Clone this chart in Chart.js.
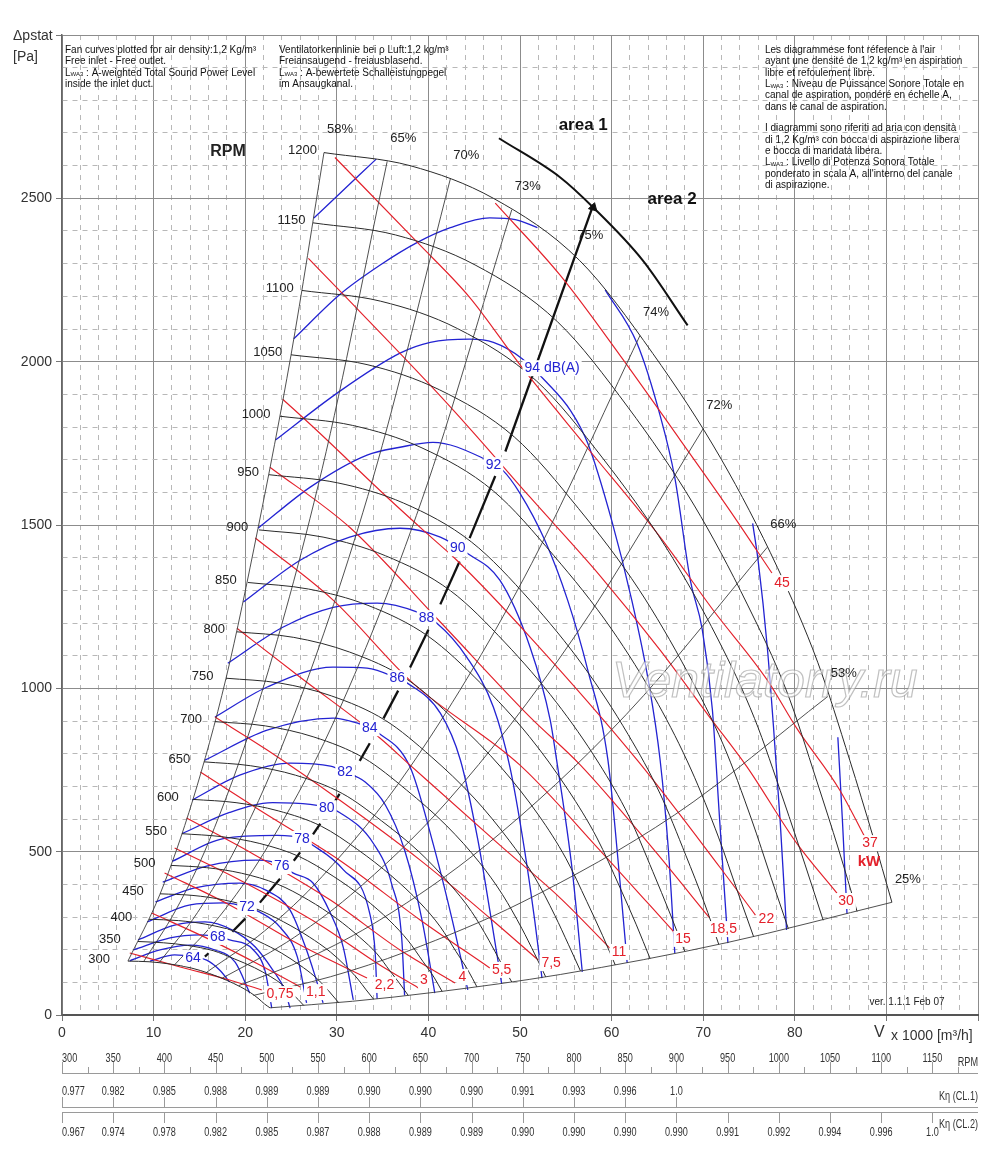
<!DOCTYPE html>
<html>
<head>
<meta charset="utf-8">
<script src="https://cdn.jsdelivr.net/npm/chart.js@4.4.1/dist/chart.umd.min.js"></script>
<style>
  body { margin: 0; background: #fff; }
  canvas { display: block; }
</style>
</head>
<body>
<canvas id="fanChart" width="1000" height="1160"></canvas>
<script>
// ---- fan curves, [V x1000 m3/h, dp Pa] ----
const rpmSpeeds = [1200, 1150, 1100, 1050, 1000, 950, 900, 850, 800, 750, 700, 650, 600, 550, 500, 450, 400, 350, 300];
const n1200 = [[28.6,2640],[38.0,2600],[47.1,2500],[56.5,2310],[64.5,2025],[72.0,1700],[78.1,1370],[82.5,1080],[86.0,780],[88.5,550],[90.6,345]];
const n1150 = [[27.4,2425],[36.4,2388],[45.1,2296],[54.1,2122],[61.8,1860],[69.0,1561],[74.8,1258],[79.1,992],[82.4,716],[84.8,505],[86.8,317]];
const n1100 = [[26.2,2218],[34.8,2185],[43.2,2101],[51.8,1941],[59.1,1702],[66.0,1429],[71.6,1151],[75.6,908],[78.8,655],[81.1,462],[83.1,290]];
const n1050 = [[25.0,2021],[33.3,1991],[41.2,1914],[49.4,1769],[56.4,1550],[63.0,1302],[68.3,1049],[72.2,827],[75.3,597],[77.4,421],[79.3,264]];
const n1000 = [[23.8,1833],[31.7,1805],[39.3,1736],[47.1,1604],[53.7,1406],[60.0,1181],[65.1,951],[68.7,750],[71.7,542],[73.7,382],[75.5,240]];
const n950 = [[22.6,1654],[30.1,1629],[37.3,1567],[44.7,1448],[51.1,1269],[57.0,1065],[61.8,859],[65.3,677],[68.1,489],[70.1,345],[71.7,216]];
const n900 = [[21.5,1485],[28.5,1463],[35.3,1406],[42.4,1299],[48.4,1139],[54.0,956],[58.6,771],[61.9,608],[64.5,439],[66.4,309],[68.0,194]];
const n850 = [[20.3,1324],[26.9,1304],[33.4,1254],[40.0,1159],[45.7,1016],[51.0,853],[55.3,687],[58.4,542],[60.9,391],[62.7,276],[64.2,173]];
const n800 = [[19.1,1173],[25.3,1156],[31.4,1111],[37.7,1027],[43.0,900],[48.0,756],[52.1,609],[55.0,480],[57.3,347],[59.0,244],[60.4,153]];
const n750 = [[17.9,1031],[23.8,1016],[29.4,977],[35.3,902],[40.3,791],[45.0,664],[48.8,535],[51.6,422],[53.8,305],[55.3,215],[56.6,135]];
const n700 = [[16.7,898],[22.2,885],[27.5,851],[33.0,786],[37.6,689],[42.0,579],[45.6,466],[48.1,368],[50.2,265],[51.6,187],[52.8,117]];
const n650 = [[15.5,775],[20.6,763],[25.5,734],[30.6,678],[34.9,594],[39.0,499],[42.3,402],[44.7,317],[46.6,229],[47.9,161],[49.1,101]];
const n600 = [[14.3,660],[19.0,650],[23.6,625],[28.3,578],[32.3,506],[36.0,425],[39.1,343],[41.3,270],[43.0,195],[44.3,138],[45.3,86]];
const n550 = [[13.1,555],[17.4,546],[21.6,525],[25.9,485],[29.6,425],[33.0,357],[35.8,288],[37.8,227],[39.4,164],[40.6,116],[41.5,72]];
const n500 = [[11.9,458],[15.8,451],[19.6,434],[23.5,401],[26.9,352],[30.0,295],[32.5,238],[34.4,187],[35.8,135],[36.9,95],[37.8,60]];
const n450 = [[10.7,371],[14.3,366],[17.7,352],[21.2,325],[24.2,285],[27.0,239],[29.3,193],[30.9,152],[32.3,110],[33.2,77],[34.0,49]];
const n400 = [[9.5,293],[12.7,289],[15.7,278],[18.8,257],[21.5,225],[24.0,189],[26.0,152],[27.5,120],[28.7,87],[29.5,61],[30.2,38]];
const n350 = [[8.3,225],[11.1,221],[13.7,213],[16.5,197],[18.8,172],[21.0,145],[22.8,117],[24.1,92],[25.1,66],[25.8,47],[26.4,29]];
const n300 = [[7.2,165],[9.5,163],[11.8,156],[14.1,144],[16.1,127],[18.0,106],[19.5,86],[20.6,68],[21.5,49],[22.1,34],[22.7,22]];
const rpmCurves = [n1200, n1150, n1100, n1050, n1000, n950, n900, n850, n800, n750, n700, n650, n600, n550, n500, n450, n400, n350, n300];

// ---- efficiency lines ----
const effNames = ['58%', '65%', '70%', '73%', '74%', '72%', '66%', '53%', '25%'];
const e58 = [[7.2,165],[10.7,370],[14.3,660],[17.9,1030],[21.4,1490],[25.0,2020],[28.6,2640]];
const e65 = [[8.9,163],[12.4,320],[16.0,529],[21.3,941],[28.4,1672],[35.5,2613]];
const e70 = [[10.6,160],[14.8,314],[19.1,518],[25.4,922],[33.9,1638],[42.4,2560]];
const e73 = [[12.3,154],[17.2,302],[22.1,499],[29.5,887],[39.3,1578],[49.1,2465]];
const e74 = [[15.8,131],[22.1,257],[28.4,424],[37.9,755],[50.5,1341],[63.1,2080]];
const e72 = [[17.5,113],[24.5,222],[31.5,367],[42.0,652],[56.0,1160],[70.0,1795]];
const e66 = [[19.3,90],[27.0,176],[34.7,291],[46.2,518],[61.6,920],[77.0,1432]];
const e53 = [[20.9,60],[29.3,117],[37.6,194],[50.2,345],[66.9,613],[83.6,975]];
const e25 = [[22.7,22],[31.7,42],[40.8,70],[54.4,124],[72.5,221],[90.6,345]];
const effLines = [e58, e65, e70, e73, e74, e72, e66, e53, e25];

// best efficiency line (75%), drawn as dashes: pairs of points
const e75 = [[58.0,2480],[48.4,1725],[47.3,1650],[44.5,1460],[43.4,1388],[41.3,1257],[40.0,1179],[38.0,1064],
  [36.7,993],[35.1,908],[33.6,832],[32.5,778],[30.3,677],[29.8,654],[28.2,586],[27.4,553],[26.0,498],[25.3,472],
  [23.8,417],[21.6,344],[20.0,295],[18.6,255],[16.0,189],[15.6,179]];
// area 1 / area 2 limit
const areaLimit = [[47.7,2684],[54.4,2564],[58.0,2472],[63.4,2310],[68.3,2111]];

// ---- absorbed power, kW ----
const kwNames = ['0,75', '1,1', '2,2', '3', '4', '5,5', '7,5', '11', '15', '18,5', '22', '30', '37', '45'];
const kw075 = [[7.4,190],[12.9,147],[18.3,107],[21.8,77]];
const kw1 = [[9.8,312],[16.2,230],[21.6,153],[26.0,86]];
const kw2 = [[11.2,435],[18.3,337],[26.0,214],[33.3,113]];
const kw3 = [[12.3,511],[19.4,413],[28.2,275],[34.7,153],[38.9,83]];
const kw4 = [[13.6,603],[20.5,499],[29.3,352],[36.9,199],[42.9,98]];
const kw5 = [[15.1,744],[21.6,627],[30.3,474],[39.1,291],[46.7,144]];
const kw7 = [[16.7,912],[22.4,811],[30.3,658],[39.1,474],[46.7,297],[52.0,168]];
const kw11 = [[19.1,1184],[26.0,1034],[34.7,848],[38.0,765],[47.8,520],[54.4,358],[59.8,205]];
const kw15 = [[21.1,1460],[29.6,1270],[38.3,1016],[50.0,765],[58.7,505],[66.9,251]];
const kw18 = [[22.7,1677],[31.4,1493],[41.3,1203],[51.1,912],[56.6,765],[64.2,520],[70.7,297]];
const kw22 = [[24.1,1885],[27.8,1790],[35.5,1585],[39.8,1475],[43.1,1392],[51.1,1157],[62.8,780],[71.8,453],[75.7,306]];
const kw30 = [[26.9,2316],[30.6,2209],[40.2,1928],[44.5,1796],[51.1,1585],[58.7,1346],[65.3,1117],[70.7,912],[74.8,759],[80.2,526],[84.6,373]];
const kw37 = [[29.8,2625],[38.8,2365],[44.5,2197],[50.2,1983],[57.3,1738],[65.3,1463],[71.1,1239],[77.0,1025],[80.2,878],[84.9,689],[87.7,542]];
const kw45 = [[47.3,2485],[54.4,2264],[60.9,2020],[67.5,1760],[72.9,1545],[77.5,1353]];
const kwLines = [kw075, kw1, kw2, kw3, kw4, kw5, kw7, kw11, kw15, kw18, kw22, kw30, kw37, kw45];

// ---- sound power LwA3, dB(A) ----
const db64 = [[9.6,165],[12.3,184],[14.5,177],[15.8,168],[17.2,138],[18.3,101]];
const db66 = [[7.4,166],[10.7,199],[14.0,214],[16.7,199],[18.9,162],[20.5,67]];
const db68 = [[7.8,199],[11.8,236],[15.1,245],[17.0,239],[18.3,230],[20.9,199],[22.2,132],[22.9,21]];
const db70 = [[8.3,230],[12.3,275],[15.6,285],[18.6,260],[21.1,208],[23.0,138],[24.3,77],[24.9,21]];
const db72 = [[9.3,285],[14.0,337],[17.6,343],[20.2,330],[21.6,315],[23.8,269],[25.7,177],[26.7,37]];
const db74 = [[10.2,346],[14.5,389],[19.4,404],[22.2,383],[24.9,321],[26.5,214],[27.6,122],[28.5,37]];
const db76 = [[11.0,407],[15.8,456],[21.3,474],[24.0,459],[25.2,435],[27.4,404],[29.3,312],[30.7,208],[31.8,46]];
const db78 = [[12.0,470],[17.6,540],[23.5,550],[26.2,540],[27.1,525],[30.7,445],[33.6,310],[34.2,185],[34.4,50]];
const db80 = [[13.1,555],[18.3,620],[23.0,650],[27.1,645],[28.9,635],[30.3,620],[34.0,525],[36.0,400],[37.1,230],[37.4,60]];
const db82 = [[14.2,658],[19.4,734],[24.9,771],[29.3,762],[30.9,744],[33.1,713],[35.3,643],[37.4,505],[39.3,291],[40.7,67]];
const db84 = [[15.6,780],[22.4,872],[29.6,909],[32.2,894],[33.6,878],[34.4,866],[38.0,759],[40.4,536],[42.6,291],[44.3,77]];
const db86 = [[16.7,912],[22.4,1004],[29.6,1065],[33.3,1062],[36.6,1031],[37.7,1016],[41.3,924],[43.5,780],[45.4,536],[46.7,321],[48.0,95]];
const db88 = [[18.1,1077],[24.1,1187],[29.6,1248],[34.4,1261],[38.8,1233],[40.9,1200],[44.2,1095],[47.1,942],[48.9,759],[50.5,505],[51.6,291],[52.4,113]];
const db90 = [[19.8,1264],[26.0,1392],[31.4,1463],[36.9,1490],[41.3,1463],[44.2,1414],[47.8,1331],[51.1,1126],[53.3,903],[54.0,780],[55.7,444],[56.8,132]];
const db92 = [[21.4,1490],[27.1,1616],[33.3,1714],[36.9,1738],[40.5,1753],[46.0,1704],[48.1,1668],[50.0,1597],[52.7,1454],[55.2,1270],[57.4,1056],[59.6,780],[60.9,413],[61.7,159]];
const db94 = [[23.3,1760],[30.0,1903],[36.9,2026],[40.2,2059],[44.5,2069],[47.1,2059],[50.2,2010],[52.9,1937],[55.5,1851],[57.4,1750],[60.0,1515],[62.2,1270],[64.0,1025],[65.3,780],[66.2,505],[66.9,190]];
const db96a = [[25.3,2070],[30.3,2205],[34.7,2295],[38.8,2365],[42.4,2410],[46.7,2440],[49.5,2435],[51.9,2410]];
const db96b = [[59.3,2220],[62.8,2055],[65.3,1835],[66.9,1645],[68.6,1330],[69.9,1180],[71.0,935],[71.8,595],[72.7,220]];
const db98a = [[27.5,2440],[30.9,2530],[34.3,2620]];
const db98b = [[75.4,1505],[76.0,1390],[77.0,1125],[77.6,910],[78.4,595],[79.1,260]];
const db100 = [[84.7,850],[85.2,595],[85.7,310]];
const dbLines = [db64, db66, db68, db70, db72, db74, db76, db78, db80, db82, db84, db86, db88, db90, db92, db94, db96a, db96b, db98a, db98b, db100];

// ---- lower scales ----
const rpmTicks = [300, 350, 400, 450, 500, 550, 600, 650, 700, 750, 800, 850, 900, 950, 1000, 1050, 1100, 1150];
const kCl1 = ['0.977', '0.982', '0.985', '0.988', '0.989', '0.989', '0.990', '0.990', '0.990', '0.991', '0.993', '0.996', '1.0'];
const kCl2 = ['0.967', '0.974', '0.978', '0.982', '0.985', '0.987', '0.988', '0.989', '0.989', '0.990', '0.990', '0.990', '0.990', '0.991', '0.992', '0.994', '0.996', '1.0'];

const FONT = "'Liberation Sans', Arial, sans-serif";
const BLACK = '#2a2a2a';
const RED = '#e3202a';
const BLUE = '#2323d2';

function toXY(a) {
    return a.map(p => ({ x: p[0], y: p[1] }));
}

function curve(a, color, width) {
    return {
        data: toXY(a),
        showLine: true,
        borderColor: color,
        borderWidth: width,
        pointRadius: 0,
        pointHoverRadius: 0,
        fill: false,
        cubicInterpolationMode: 'monotone'
    };
}

const datasets = [];
rpmCurves.forEach(c => datasets.push(curve(c, BLACK, 1)));
effLines.forEach(c => datasets.push(curve(c, '#3c3c3c', 0.9)));
kwLines.forEach(c => datasets.push(curve(c, RED, 1.15)));
dbLines.forEach(c => datasets.push(curve(c, BLUE, 1.3)));

// dashed best-efficiency line: every second segment hidden
datasets.push({
    data: toXY(e75),
    showLine: true,
    borderWidth: 2.3,
    borderColor: '#111',
    pointRadius: 0,
    tension: 0,
    segment: {
        borderColor: ctx => (ctx.p0DataIndex % 2 ? 'rgba(0,0,0,0)' : '#111')
    }
});
datasets.push(Object.assign(curve(areaLimit, '#111', 2), {}));
// arrow head on the area limit
datasets.push({
    data: [{ x: 58.0, y: 2472 }],
    showLine: false,
    pointStyle: 'triangle',
    pointRadius: 5,
    rotation: 135,
    backgroundColor: '#111',
    borderColor: '#111'
});

// labels placed on the curves (value units)
const dbLabelAt = [['64',14.3,174],['68',17.0,239],['72',20.2,330],['76',24.0,456],['78',26.2,539],['80',28.9,633],
    ['82',30.9,744],['84',33.6,878],['86',36.6,1031],['88',39.8,1215],['90',43.2,1429],['92',47.1,1683],['94 dB(A)',53.5,1980]];
const kwLabelAt = [[23.8,64],[27.7,70],[35.2,92],[39.5,107],[43.7,116],[48.0,138],[53.4,159],[60.8,193],[67.8,233],
    [72.2,263],[76.9,294],[85.6,349],[88.2,526],[78.6,1322]];

const headerLeft = ['Fan curves plotted for air density:1,2 Kg/m³', 'Free inlet - Free outlet.',
    'LWA3 : A-weighted Total Sound Power Level', 'inside the inlet duct.'];
const headerMid = ['Ventilatorkennlinie bei ρ Luft:1,2 kg/m³', 'Freiansaugend - freiausblasend.',
    'LWA3 : A-bewertete Schalleistungpegel', 'im Ansaugkanal.'];
const headerRight = ['Les diagrammese font réference à l\'air', 'ayant une densité de 1,2 kg/m³ en aspiration',
    'libre et refoulement libre.', 'LWA3 : Niveau de Puissance Sonore Totale en',
    'canal de aspiration, pondéré en échelle A,', 'dans le canal de aspiration.', '',
    'I diagrammi sono riferiti ad aria con densità', 'di 1,2 Kg/m³ con bocca di aspirazione libera',
    'e bocca di mandata libera.', 'LWA3 : Livello di Potenza Sonora Totale',
    'ponderato in scala A, all\'interno del canale', 'di aspirazione.'];

function text(ctx, s, x, y, font, color, align, bg) {
    ctx.save();
    ctx.font = font;
    ctx.textAlign = align || 'center';
    ctx.textBaseline = 'middle';
    if (bg) {
        const w = ctx.measureText(s).width;
        let x0 = x - w / 2;
        if (align === 'left') x0 = x;
        if (align === 'right') x0 = x - w;
        ctx.fillStyle = '#fff';
        ctx.fillRect(x0 - 2, y - 8, w + 4, 16);
    }
    ctx.fillStyle = color;
    ctx.fillText(s, x, y);
    ctx.restore();
}

function headerLine(ctx, s, x, y) {
    ctx.font = '10px ' + FONT;
    if (s.indexOf('LWA3') === 0) {
        ctx.fillText('L', x, y);
        const w = ctx.measureText('L').width;
        ctx.font = '6px ' + FONT;
        ctx.fillText('WA3', x + w, y + 2);
        const w2 = ctx.measureText('WA3').width;
        ctx.font = '10px ' + FONT;
        ctx.fillText(s.slice(4), x + w + w2, y);
    } else {
        ctx.fillText(s, x, y);
    }
}

function narrow(ctx, s, x, y, align) {
    ctx.save();
    ctx.translate(x, y);
    ctx.scale(0.76, 1);
    ctx.textAlign = align;
    ctx.fillText(s, 0, 0);
    ctx.restore();
}

const labelPlugin = {
    id: 'fanLabels',
    afterDatasetsDraw(chart) {
        const ctx = chart.ctx;
        const X = v => chart.scales.x.getPixelForValue(v);
        const Y = v => chart.scales.y.getPixelForValue(v);

        // watermark
        ctx.save();
        ctx.font = 'italic 50px ' + FONT;
        ctx.textBaseline = 'alphabetic';
        ctx.fillStyle = 'rgba(255,255,255,0.55)';
        ctx.strokeStyle = 'rgba(140,140,140,0.55)';
        ctx.lineWidth = 1.2;
        ctx.fillText('Ventilatorry.ru', 612, 697);
        ctx.strokeText('Ventilatorry.ru', 612, 697);
        ctx.restore();

        // rpm labels at the start of each fan curve
        rpmCurves.forEach((c, i) => {
            const n = rpmSpeeds[i];
            const off = 7 + (1200 - n) / 900 * 11;
            text(ctx, String(n), X(c[0][0]) - off, Y(c[0][1]) - 2, '13px ' + FONT, '#222', 'right');
        });
        text(ctx, 'RPM', 228, 152, 'bold 16px ' + FONT, '#222', 'center');

        // efficiency labels next to the top of each line
        effLines.forEach((c, i) => {
            const t = c[c.length - 1];
            text(ctx, effNames[i], X(t[0]) + 16, Y(t[1]) - 23, '13px ' + FONT, '#222', 'center');
        });
        text(ctx, '75%', X(e75[0][0]) - 3, Y(e75[0][1]) + 31, '13px ' + FONT, '#222', 'center');

        text(ctx, 'area 1', X(56.9), Y(2723), 'bold 17px ' + FONT, '#111', 'center');
        text(ctx, 'area 2', X(66.6), Y(2497), 'bold 17px ' + FONT, '#111', 'center');

        dbLabelAt.forEach(l => text(ctx, l[0], X(l[1]), Y(l[2]), '14px ' + FONT, BLUE, 'center', true));
        kwLabelAt.forEach((l, i) => text(ctx, kwNames[i], X(l[0]), Y(l[1]), '14px ' + FONT, RED, 'center', true));
        text(ctx, 'kW', X(88.1), Y(468), 'bold 15px ' + FONT, RED, 'center');

        text(ctx, 'ver. 1.1.1 Feb 07', 907, 1002, '10px ' + FONT, '#222', 'center');
    },
    afterDraw(chart) {
        const ctx = chart.ctx;
        const area = chart.chartArea;
        const rs = chart.scales.rpm;

        // axis captions
        text(ctx, 'Δpstat', 13, 36, '14px ' + FONT, '#333', 'left');
        text(ctx, '[Pa]', 13, 57, '14px ' + FONT, '#333', 'left');
        text(ctx, 'V', 874, 1033, '16px ' + FONT, '#333', 'left');
        text(ctx, 'x 1000 [m³/h]', 891, 1036, '14px ' + FONT, '#333', 'left');

        // header notes
        ctx.save();
        ctx.fillStyle = '#111';
        ctx.textBaseline = 'middle';
        ctx.textAlign = 'left';
        headerLeft.forEach((s, i) => headerLine(ctx, s, 65, 50 + i * 11.4));
        headerMid.forEach((s, i) => headerLine(ctx, s, 279, 50 + i * 11.4));
        headerRight.forEach((s, i) => {
            const y = i < 6 ? 50 + i * 11.4 : 128.5 + (i - 7) * 11.4;
            if (s) headerLine(ctx, s, 765, y);
        });
        ctx.restore();

        // lower scales: RPM, K eta (CL.1), K eta (CL.2)
        ctx.save();
        ctx.strokeStyle = '#9a9a9a';
        ctx.lineWidth = 1;
        ctx.beginPath();
        ctx.moveTo(area.left, 1073.5); ctx.lineTo(area.right, 1073.5);
        ctx.moveTo(area.left, 1107.5); ctx.lineTo(area.right, 1107.5);
        ctx.moveTo(area.left, 1112.5); ctx.lineTo(area.right, 1112.5);
        rpmTicks.forEach((v, i) => {
            const x = Math.round(rs.getPixelForValue(v)) + 0.5;
            ctx.moveTo(x, 1062); ctx.lineTo(x, 1073);
            const xm = Math.round(rs.getPixelForValue(v + 25)) + 0.5;
            if (xm < area.right) { ctx.moveTo(xm, 1067); ctx.lineTo(xm, 1073); }
            if (i < kCl1.length) { ctx.moveTo(x, 1097); ctx.lineTo(x, 1107); }
            ctx.moveTo(x, 1113); ctx.lineTo(x, 1123);
        });
        ctx.stroke();

        ctx.fillStyle = '#333';
        ctx.font = '12px ' + FONT;
        ctx.textBaseline = 'middle';
        rpmTicks.forEach((v, i) => {
            const x = rs.getPixelForValue(v);
            const al = i === 0 ? 'left' : 'center';
            narrow(ctx, String(v), x, 1059, al);
            if (i < kCl1.length) narrow(ctx, kCl1[i], x, 1092, al);
            narrow(ctx, kCl2[i], x, 1133, al);
        });
        narrow(ctx, 'RPM', area.right, 1063, 'right');
        narrow(ctx, 'Kη (CL.1)', area.right, 1097, 'right');
        narrow(ctx, 'Kη (CL.2)', area.right, 1125, 'right');
        ctx.restore();
    }
};

function isMajor(ctx, step) {
    return ctx.tick && Math.round(ctx.tick.value) % step === 0;
}

const fanChart = new Chart(document.getElementById('fanChart').getContext('2d'), {
    type: 'scatter',
    data: { datasets: datasets },
    options: {
        responsive: false,
        animation: false,
        devicePixelRatio: 1,
        layout: { padding: { top: 35, right: 22, left: 0, bottom: 0 } },
        plugins: {
            legend: { display: false },
            tooltip: { enabled: false }
        },
        scales: {
            x: {
                type: 'linear',
                min: 0,
                max: 100,
                ticks: {
                    stepSize: 2,
                    autoSkip: false,
                    maxRotation: 0,
                    padding: 4,
                    color: '#333',
                    font: { family: FONT, size: 14 },
                    callback: v => (v % 10 === 0 && v <= 80 ? String(v) : '')
                },
                grid: {
                    color: ctx => (isMajor(ctx, 10) ? '#8c8c8c' : '#b8b8b8'),
                    lineWidth: 1,
                    tickLength: 6,
                    tickColor: ctx => (isMajor(ctx, 10) ? '#777' : 'rgba(0,0,0,0)')
                },
                border: {
                    color: '#555',
                    width: 2,
                    dash: ctx => (ctx.tick && !isMajor(ctx, 10) ? [5, 5] : [])
                },
                afterFit: s => { s.height = 145; }
            },
            y: {
                type: 'linear',
                min: 0,
                max: 3000,
                ticks: {
                    stepSize: 100,
                    autoSkip: false,
                    padding: 4,
                    color: '#333',
                    font: { family: FONT, size: 14 },
                    callback: v => (v % 500 === 0 && v < 3000 ? String(v) : '')
                },
                grid: {
                    color: ctx => (isMajor(ctx, 500) ? '#8c8c8c' : '#b8b8b8'),
                    lineWidth: 1,
                    tickLength: 6,
                    tickColor: ctx => (isMajor(ctx, 500) ? '#777' : 'rgba(0,0,0,0)')
                },
                border: {
                    color: '#666',
                    width: 1.5,
                    dash: ctx => (ctx.tick && !isMajor(ctx, 500) ? [5, 5] : [])
                },
                afterFit: s => { s.width = 62; }
            },
            rpm: {
                type: 'linear',
                axis: 'x',
                position: 'bottom',
                display: false,
                min: 300,
                max: 1194.5
            }
        }
    },
    plugins: [labelPlugin]
});
</script>
</body>
</html>
